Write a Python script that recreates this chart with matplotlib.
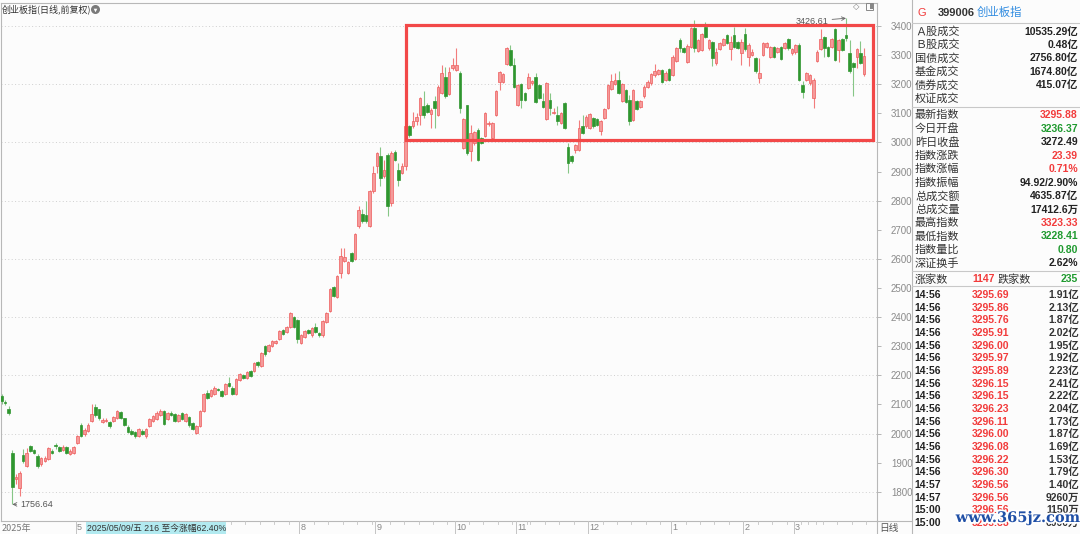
import matplotlib
matplotlib.use('Agg')
import matplotlib.pyplot as plt
from matplotlib.patches import Rectangle
from matplotlib.transforms import blended_transform_factory
import matplotlib.patheffects as pe

plt.rcParams['font.family'] = ['Noto Sans CJK SC', 'DejaVu Sans']

# ---------------- data (daily candles, 创业板指) ----------------
opens = [2128, 2110, 2083, 1933, 1845, 1813, 1926, 1888, 1958, 1944,
         1924, 1896, 1907, 1913, 1940, 1962, 1955, 1944, 1955, 1931,
         1934, 1969, 2031, 1998, 2008, 2043, 2090, 2083, 2040, 2043,
         2040, 2044, 2053, 2073, 2052, 2024, 2010, 2006, 1990, 2010,
         1990, 2026, 2043, 2049, 2063, 2077, 2051, 2072, 2066, 2043,
         2072, 2043, 2058, 2035, 2001, 2026, 2077, 2138, 2130, 2135,
         2152, 2146, 2135, 2175, 2158, 2135, 2184, 2202, 2192, 2215,
         2215, 2246, 2232, 2300, 2284, 2300, 2310, 2324, 2355, 2349,
         2367, 2400, 2389, 2310, 2333, 2355, 2337, 2367, 2344, 2337,
         2383, 2421, 2503, 2470, 2552, 2592, 2552, 2621, 2600, 2712,
         2755, 2752, 2712, 2832, 2918, 2954, 2883, 2958, 2792, 2966,
         2906, 2895, 2918, 3055, 3055, 3074, 3095, 3124, 3129, 3097,
         3143, 3095, 3169, 3226, 3166, 3255, 3249, 3238, 2981, 3127,
         2969, 2998, 3043, 3015, 3021, 3064, 3015, 3095, 3209, 3209,
         3269, 3318, 3266, 3129, 3200, 3169, 3186, 3203, 3226, 3198,
         3143, 3081, 3146, 3101, 3095, 3066, 3135, 2986, 2952, 2975,
         2975, 3055, 3055, 3049, 3083, 3081, 3038, 3083, 3120, 3184,
         3200, 3215, 3143, 3180, 3146, 3078, 3143, 3123, 3158, 3192,
         3203, 3230, 3234, 3249, 3215, 3252, 3232, 3280, 3352, 3323,
         3278, 3329, 3392, 3314, 3318, 3398, 3323, 3346, 3272, 3320,
         3335, 3369, 3320, 3369, 3346, 3306, 3372, 3295, 3301, 3289,
         3221, 3301, 3327, 3295, 3327, 3312, 3329, 3324, 3354, 3306,
         3309, 3335, 3198, 3215, 3203, 3152, 3281, 3320, 3361, 3327,
         3327, 3389, 3318, 3354, 3369, 3306, 3272, 3295, 3306, 3236.37]
highs = [2136, 2116, 2095, 1944, 1862, 1872, 1946, 1950, 1962, 1948,
         1928, 1920, 1922, 1955, 1946, 1968, 1958, 1960, 1958, 1946,
         1958, 1996, 2036, 2020, 2036, 2102, 2102, 2086, 2052, 2054,
         2044, 2060, 2082, 2077, 2055, 2028, 2014, 2009, 2020, 2014,
         2018, 2055, 2064, 2076, 2083, 2080, 2075, 2076, 2069, 2066,
         2075, 2070, 2061, 2038, 2029, 2080, 2140, 2148, 2152, 2162,
         2156, 2150, 2174, 2195, 2162, 2190, 2207, 2206, 2215, 2219,
         2245, 2250, 2279, 2304, 2307, 2322, 2322, 2356, 2359, 2371,
         2417, 2404, 2393, 2341, 2356, 2359, 2367, 2380, 2348, 2390,
         2419, 2501, 2507, 2545, 2637, 2637, 2593, 2625, 2690, 2781,
         2771, 2800, 2836, 2920, 2966, 2986, 2941, 2963, 2969, 2975,
         2929, 2929, 3057, 3060, 3106, 3100, 3155, 3175, 3135, 3118,
         3158, 3196, 3266, 3260, 3260, 3289, 3323, 3244, 3083, 3127,
         3061, 3040, 3048, 3020, 3106, 3072, 3070, 3179, 3244, 3238,
         3329, 3335, 3289, 3202, 3204, 3174, 3238, 3215, 3238, 3202,
         3169, 3207, 3169, 3118, 3124, 3104, 3139, 2998, 2956, 2994,
         3078, 3095, 3095, 3101, 3087, 3085, 3078, 3119, 3202, 3234,
         3238, 3244, 3204, 3184, 3163, 3184, 3147, 3147, 3196, 3213,
         3238, 3269, 3253, 3253, 3244, 3256, 3299, 3327, 3358, 3327,
         3337, 3396, 3420, 3356, 3375, 3415, 3356, 3350, 3325, 3345,
         3358, 3373, 3364, 3395, 3350, 3354, 3392, 3341, 3320, 3293,
         3289, 3345, 3345, 3331, 3331, 3327, 3333, 3345, 3358, 3324,
         3339, 3341, 3210, 3242, 3236, 3221, 3316, 3389, 3365, 3331,
         3358, 3392, 3356, 3358, 3426.61, 3352, 3278, 3323, 3350, 3323.33]
lows = [2100, 2098, 2062, 1756.64, 1828, 1785, 1900, 1884, 1936, 1928,
        1880, 1890, 1903, 1910, 1930, 1948, 1937, 1940, 1930, 1927,
        1930, 1965, 1988, 1992, 2004, 2040, 2058, 2048, 2036, 2038,
        2020, 2040, 2050, 2050, 2025, 2002, 1995, 1986, 1987, 1996,
        1986, 2022, 2040, 2046, 2060, 2028, 2048, 2060, 2040, 2040,
        2048, 2040, 2024, 2011, 1997, 2022, 2074, 2118, 2126, 2132,
        2146, 2125, 2132, 2160, 2131, 2132, 2180, 2188, 2188, 2194,
        2211, 2230, 2228, 2268, 2280, 2296, 2306, 2320, 2337, 2345,
        2363, 2363, 2310, 2306, 2329, 2342, 2333, 2345, 2333, 2333,
        2379, 2417, 2468, 2466, 2535, 2588, 2548, 2588, 2596, 2706,
        2724, 2724, 2708, 2828, 2895, 2849, 2879, 2746, 2781, 2937,
        2849, 2890, 2904, 3018, 3050, 3061, 3061, 3083, 3100, 3049,
        3051, 3090, 3165, 3154, 3162, 3249, 3245, 3101, 2976, 2958,
        2935, 2990, 2935, 2994, 3017, 3058, 3010, 3091, 3181, 3205,
        3265, 3262, 3188, 3125, 3118, 3142, 3182, 3199, 3135, 3148,
        3119, 3077, 3095, 3097, 3061, 3062, 3045, 2895, 2930, 2963,
        2969, 3028, 3051, 3045, 3051, 3057, 3024, 3079, 3116, 3180,
        3196, 3165, 3139, 3136, 3061, 3074, 3111, 3119, 3154, 3188,
        3199, 3226, 3230, 3205, 3211, 3211, 3228, 3276, 3310, 3308,
        3274, 3325, 3310, 3310, 3314, 3358, 3319, 3264, 3266, 3316,
        3331, 3337, 3284, 3323, 3320, 3266, 3314, 3263, 3297, 3240,
        3204, 3297, 3323, 3291, 3291, 3308, 3282, 3320, 3318, 3300,
        3305, 3211, 3152, 3211, 3199, 3118, 3277, 3316, 3295, 3293,
        3323, 3279, 3278, 3314, 3350, 3240, 3158, 3255, 3270, 3228.41]
closes = [2112, 2106, 2069, 1816, 1850, 1864, 1905, 1933, 1941, 1933,
          1888, 1917, 1917, 1950, 1934, 1956, 1941, 1955, 1934, 1941,
          1955, 1992, 1993, 2012, 2030, 2068, 2063, 2053, 2046, 2048,
          2026, 2056, 2078, 2053, 2029, 2006, 2000, 1990, 2017, 2000,
          2014, 2051, 2060, 2072, 2077, 2032, 2072, 2063, 2043, 2063,
          2051, 2066, 2028, 2015, 2026, 2077, 2135, 2122, 2148, 2158,
          2150, 2129, 2170, 2164, 2135, 2186, 2203, 2192, 2211, 2198,
          2241, 2234, 2275, 2272, 2303, 2318, 2318, 2352, 2341, 2367,
          2413, 2367, 2326, 2337, 2352, 2346, 2363, 2349, 2337, 2386,
          2415, 2497, 2472, 2541, 2609, 2607, 2589, 2592, 2685, 2769,
          2729, 2729, 2832, 2895, 2963, 2878, 2906, 2781, 2963, 2941,
          2872, 2920, 3055, 3026, 3072, 3089, 3152, 3095, 3106, 3112,
          3120, 3192, 3238, 3158, 3243, 3266, 3266, 3118, 3081, 2963,
          3032, 3035, 2941, 2998, 3101, 3066, 3066, 3175, 3241, 3234,
          3326, 3266, 3192, 3198, 3146, 3146, 3226, 3211, 3138, 3152,
          3123, 3203, 3118, 3106, 3072, 3100, 3049, 2929, 2935, 2990,
          3049, 3032, 3089, 3097, 3055, 3061, 3074, 3115, 3198, 3211,
          3215, 3169, 3200, 3140, 3074, 3180, 3115, 3143, 3192, 3209,
          3234, 3246, 3249, 3209, 3240, 3215, 3295, 3323, 3323, 3312,
          3333, 3392, 3323, 3352, 3371, 3363, 3352, 3290, 3312, 3341,
          3354, 3341, 3346, 3327, 3324, 3346, 3320, 3335, 3312, 3244,
          3238, 3341, 3341, 3327, 3295, 3323, 3286, 3341, 3324, 3320,
          3335, 3215, 3172, 3238, 3232, 3215, 3312, 3354, 3323, 3297,
          3354, 3283, 3352, 3318, 3358, 3244, 3258, 3320, 3272.49, 3295.88]

month_start_bars = [21, 40, 60, 83, 104, 126, 143, 163, 186, 206, 220]
month_labels = ['5', '6', '7', '8', '9', '10', '11', '12', '1', '2', '3']
y_ticks = list(range(1800, 3401, 100))
grid_levels = list(range(1800, 3401, 200))
high_bar, high_val = 234, 3426.61
low_bar, low_val = 3, 1756.64

# right-hand quote panel
panel_top_labels = ['Ａ股成交', 'Ｂ股成交', '国债成交', '基金成交', '债券成交', '权证成交']
panel_top_values = ['10535.29亿', '0.48亿', '2756.80亿', '1674.80亿', '415.07亿', '']
panel_mid_labels = ['最新指数', '今日开盘', '昨日收盘', '指数涨跌', '指数涨幅', '指数振幅',
                    '总成交额', '总成交量', '最高指数', '最低指数', '指数量比', '深证换手']
panel_mid_values = ['3295.88', '3236.37', '3272.49', '23.39', '0.71%', '94.92/2.90%',
                    '4635.87亿', '17412.6万', '3323.33', '3228.41', '0.80', '2.62%']
panel_mid_colors = ['r', 'g', 'k', 'r', 'r', 'k', 'k', 'k', 'r', 'g', 'g', 'k']
up_count, down_count = '1147', '235'
tick_times = ['14:56'] * 15 + ['14:57', '14:57', '15:00', '15:00']
tick_prices = ['3295.69', '3295.86', '3295.76', '3295.91', '3296.00', '3295.97', '3295.89',
               '3296.15', '3296.15', '3296.23', '3296.11', '3296.00', '3296.08', '3296.22',
               '3296.30', '3296.56', '3296.56', '3296.56', '3295.88']
tick_vols = ['1.91亿', '2.13亿', '1.87亿', '2.02亿', '1.95亿', '1.92亿', '2.23亿', '2.41亿',
             '2.22亿', '2.04亿', '1.73亿', '1.87亿', '1.69亿', '1.53亿', '1.79亿', '1.40亿',
             '9260万', '1150万', '6000万']

# ---------------- figure ----------------
W, H = 1080, 534
RED = '#f23b3b'
GREEN = '#1f9a2f'
DARK = '#222222'
COLS = {'r': RED, 'g': GREEN, 'k': DARK}
NUM_FONT = ['Liberation Sans', 'Noto Sans CJK SC']

fig = plt.figure(figsize=(W / 100, H / 100), dpi=100, facecolor='#fcfcfc')

PX_BAR = 3.609
X0 = 1.5
PX_VAL = 0.2911
ax = fig.add_axes([1 / W, 13 / H, 876 / W, 518 / H])
ax.set_facecolor('#fcfcfc')
ax.set_xlim((1 - X0) / PX_BAR, (877 - X0) / PX_BAR)
ax.set_ylim(3400 - (521 - 26) / PX_VAL, 3400 + (26 - 3) / PX_VAL)

for lv in grid_levels:
    ax.axhline(lv, color='#cfcfcf', lw=0.7, ls=(0, (1, 2.5)), zorder=0)

idx = list(range(len(closes)))
is_up = [c >= o for o, c in zip(opens, closes)]
wick_c = ['#f27c7c' if u else '#86c686' for u in is_up]
face_c = ['#f59a9a' if u else '#2f962f' for u in is_up]
edge_c = ['#ee5c5c' if u else '#2f962f' for u in is_up]
ax.vlines(idx, lows, highs, colors=wick_c, lw=0.8, zorder=2)
bottoms = [min(o, c) for o, c in zip(opens, closes)]
heights = [max(abs(c - o), 2.0) for o, c in zip(opens, closes)]
ax.bar(idx, heights, width=0.72, bottom=bottoms, color=face_c,
       edgecolor=edge_c, linewidth=0.5, zorder=3)

# highlighted consolidation box
ax.add_patch(Rectangle((112.1, 3008.5), 241.5 - 112.1, 3403.4 - 3008.5,
                       fill=False, edgecolor='#f24848', lw=2.3, zorder=4))

# max / min annotations
ax.annotate(f'{high_val:.2f}', xy=(high_bar, high_val), xytext=(-13, -2),
            textcoords='offset points', ha='right', va='center',
            fontsize=6.5, color='#555555', family=NUM_FONT,
            arrowprops=dict(arrowstyle='->', color='#666666', lw=0.6,
                            shrinkA=1, shrinkB=0))
ax.annotate(f'{low_val:.2f}', xy=(low_bar, low_val), xytext=(6, 0),
            textcoords='offset points', ha='left', va='center',
            fontsize=6.5, color='#555555', family=NUM_FONT,
            arrowprops=dict(arrowstyle='->', color='#666666', lw=0.6,
                            shrinkA=1, shrinkB=0))

ax.set_xticks([])
ax.set_yticks(y_ticks)
ax.set_yticklabels([str(v) for v in y_ticks], family=NUM_FONT)
ax.yaxis.tick_right()
ax.tick_params(axis='y', direction='out', length=3, width=0.6, color='#aaaaaa',
               pad=7, labelsize=7, labelcolor='#8a8a8a')
for s in ax.spines.values():
    s.set_color('#b8b8b8')
    s.set_linewidth(0.8)

# ---------------- overlay in pixel coordinates ----------------
ov = fig.add_axes([0, 0, 1, 1], zorder=5)
ov.set_xlim(0, W)
ov.set_ylim(H, 0)
ov.axis('off')
bt = blended_transform_factory(ax.transData, ov.transData)

# chart header
ov.text(2, 9, '创业板指(日线,前复权)', fontsize=6.5, color='#333333', va='center', ha='left')
ov.plot([95], [9], marker='o', ms=6.5, color='#7a7a7a', mec='none')
ov.plot([95], [9.6], marker='v', ms=2.6, color='white', mec='none')
ov.text(856, 7, '◇', fontsize=6, color='#777777', ha='center', va='center', family='DejaVu Sans')
ov.add_patch(Rectangle((866, 3), 7, 7, fill=False, edgecolor='#888888', lw=0.7))
ov.add_patch(Rectangle((870, 4), 3, 5, facecolor='#888888', edgecolor='none'))

# frame lines
ov.plot([877, 912], [521, 521], color='#b8b8b8', lw=0.8)
ov.plot([877, 877], [521, 534], color='#b8b8b8', lw=0.8)
ov.plot([912, 912], [0, 534], color='#b8b8b8', lw=0.8)
ov.text(889, 528, '日线', fontsize=7, color='#555555', ha='center', va='center')

# bottom date strip (labels under the cyan info box are hidden, as in the source)
HL_X0, HL_X1 = 86, 226
ov.text(2, 528, '2025年', fontsize=6.5, color='#777777', ha='left', va='center')
for ms, lab in zip(month_start_bars, month_labels):
    px = X0 + ms * PX_BAR
    for k in range(1, 6):
        ov.plot([ms - 0.45 + 4 * k] * 2, [521, 523.5], color='#c4c4c4', lw=0.6, transform=bt)
    if HL_X0 - 2 < px < HL_X1 + 2:
        continue
    ov.plot([ms - 0.45, ms - 0.45], [521, 534], color='#c4c4c4', lw=0.7, transform=bt)
    ov.text(ms - 0.1, 528, lab, fontsize=6.5, color='#888888', ha='left', va='center',
            family=NUM_FONT, transform=bt)
ov.add_patch(Rectangle((HL_X0, 522), HL_X1 - HL_X0, 11.5, facecolor='#b2eaf0',
                       edgecolor='none', zorder=6))
ov.text(87, 528, '2025/05/09/五 216 至今涨幅62.40%', fontsize=6.3, color='#333333',
        ha='left', va='center', family=NUM_FONT, zorder=7)

# right panel header
ov.text(917, 12.5, 'G', fontsize=8, color=RED, ha='left', va='center', family=NUM_FONT)
ov.text(938, 12.5, '399006', fontsize=8, color='#333333', ha='left', va='center',
        family=NUM_FONT, fontweight='bold')
ov.text(977, 12.5, '创业板指', fontsize=8.2, color='#2f8be0', ha='left', va='center')
for yl in [23, 107, 271, 286]:
    ov.plot([912, W], [yl, yl], color='#c8c8c8', lw=0.8)

row_h = 13.45
for k, (lab, val) in enumerate(zip(panel_top_labels, panel_top_values)):
    y = 31.5 + k * row_h
    ov.text(915, y, lab, fontsize=8, color='#333333', ha='left', va='center')
    ov.text(1078, y, val, fontsize=7.5, color=DARK, ha='right', va='center',
            family=NUM_FONT, fontweight='bold')
for k, (lab, val, c) in enumerate(zip(panel_mid_labels, panel_mid_values, panel_mid_colors)):
    y = 115.3 + k * row_h
    ov.text(915, y, lab, fontsize=8, color='#333333', ha='left', va='center')
    ov.text(1078, y, val, fontsize=7.5, color=COLS[c], ha='right', va='center',
            family=NUM_FONT, fontweight='bold')

ov.text(915, 279.5, '涨家数', fontsize=8, color='#333333', ha='left', va='center')
ov.text(995, 279.5, up_count, fontsize=7.5, color=RED, ha='right', va='center',
        family=NUM_FONT, fontweight='bold')
ov.text(998, 279.5, '跌家数', fontsize=8, color='#333333', ha='left', va='center')
ov.text(1078, 279.5, down_count, fontsize=7.5, color=GREEN, ha='right', va='center',
        family=NUM_FONT, fontweight='bold')

for k, (t, p, v) in enumerate(zip(tick_times, tick_prices, tick_vols)):
    y = 295 + k * 12.67
    ov.text(914, y, t, fontsize=7.5, color=DARK, ha='left', va='center',
            family=NUM_FONT, fontweight='bold')
    ov.text(972, y, p, fontsize=7.5, color=RED, ha='left', va='center',
            family=NUM_FONT, fontweight='bold')
    ov.text(1079, y, v, fontsize=7.5, color='#333333', ha='right', va='center',
            family=NUM_FONT, fontweight='bold')

# site watermark
ov.text(1018, 518, 'www.365jz.com', fontsize=10.5, color='#1f4fa6', ha='center',
        va='center', family='DejaVu Serif', fontweight='bold', zorder=8,
        path_effects=[pe.withStroke(linewidth=2.5, foreground='white')])

fig.savefig('out.png', dpi=100, facecolor=fig.get_facecolor())
